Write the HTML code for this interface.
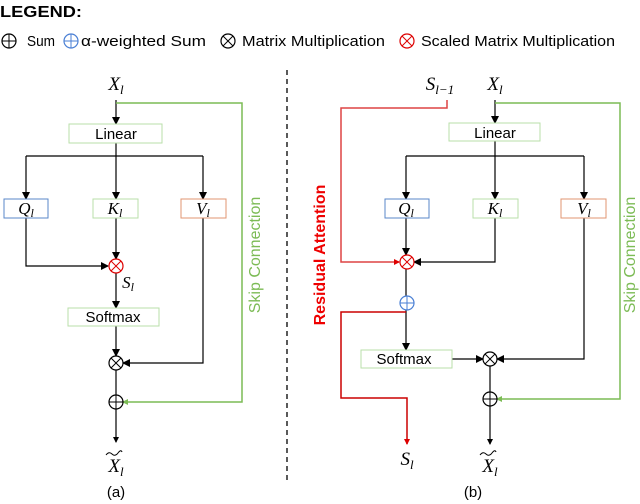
<!DOCTYPE html>
<html><head><meta charset="utf-8"><style>
body{margin:0;background:#fff}
svg{display:block;font-family:"Liberation Sans",sans-serif}
.m{font-family:"Liberation Serif",serif;font-style:italic}
</style></head><body>
<svg width="640" height="504" viewBox="0 0 640 504" xmlns="http://www.w3.org/2000/svg">
<defs>
<marker id="ak" markerWidth="8" markerHeight="8" refX="7" refY="4" orient="auto" markerUnits="userSpaceOnUse"><path d="M0,0 L8,4 L0,8z" fill="#000"/></marker>
<marker id="ar" markerWidth="6" markerHeight="6" refX="5" refY="3" orient="auto" markerUnits="userSpaceOnUse"><path d="M0,0 L6,3 L0,6z" fill="#d00"/></marker>
<marker id="ag" markerWidth="6" markerHeight="6" refX="5" refY="3" orient="auto" markerUnits="userSpaceOnUse"><path d="M0,0 L6,3 L0,6z" fill="#7cbb55"/></marker>
<marker id="as" markerWidth="6" markerHeight="6" refX="5" refY="3" orient="auto" markerUnits="userSpaceOnUse"><path d="M0,0 L6,3 L0,6z" fill="#000"/></marker>
<g id="plus"><circle r="7" fill="#fff" stroke-width="1.2"/><line x1="-7" y1="0" x2="7" y2="0"/><line x1="0" y1="-7" x2="0" y2="7"/></g>
<g id="times"><circle r="7" fill="#fff" stroke-width="1.2"/><line x1="-5" y1="-5" x2="5" y2="5"/><line x1="-5" y1="5" x2="5" y2="-5"/></g>
</defs>
<text x="0" y="17" font-size="16" font-weight="bold" textLength="82" lengthAdjust="spacingAndGlyphs">LEGEND:</text>
<g font-size="15">
<use href="#plus" x="9" y="41" stroke="#000"/><text x="27" y="46" textLength="28" lengthAdjust="spacingAndGlyphs">Sum</text>
<use href="#plus" x="71" y="41" stroke="#4a7fd4"/><text x="81" y="46" textLength="125" lengthAdjust="spacingAndGlyphs">α-weighted Sum</text>
<use href="#times" x="228" y="41" stroke="#000"/><text x="242" y="46" textLength="143" lengthAdjust="spacingAndGlyphs">Matrix Multiplication</text>
<use href="#times" x="407" y="41" stroke="#d00"/><text x="421" y="46" textLength="194" lengthAdjust="spacingAndGlyphs">Scaled Matrix Multiplication</text>
</g>
<line x1="287" y1="70" x2="287" y2="482" stroke="#000" stroke-dasharray="5,4" stroke-width="1.3"/>

<!-- LEFT -->
<g stroke="#000" stroke-width="1.2" fill="none">
<line x1="116" y1="100" x2="116" y2="124" marker-end="url(#ak)"/>
<polyline points="116,143 116,156"/>
<polyline points="26,156 203,156"/>
<line x1="26" y1="156" x2="26" y2="199" marker-end="url(#ak)"/>
<line x1="203" y1="156" x2="203" y2="199" marker-end="url(#ak)"/>
<line x1="116" y1="156" x2="116" y2="199" marker-end="url(#ak)"/>
<line x1="116" y1="218" x2="116" y2="259" marker-end="url(#ak)"/>
<polyline points="26,218 26,266 108,266" marker-end="url(#ak)"/>
<line x1="116" y1="273" x2="116" y2="308" marker-end="url(#ak)"/>
<line x1="116" y1="326" x2="116" y2="356" marker-end="url(#ak)"/>
<polyline points="203,218 203,363 123,363" marker-end="url(#ak)"/>
<line x1="116" y1="370" x2="116" y2="395"/>
<line x1="116" y1="409" x2="116" y2="442" marker-end="url(#as)"/>
</g>
<polyline points="116,103 242,103 242,402 123,402" fill="none" stroke="#7cbb55" stroke-width="1.5" marker-end="url(#ag)"/>
<rect x="69" y="124" width="93" height="19" fill="#fff" stroke="#b9dfaa"/>
<rect x="4" y="199" width="44" height="19" fill="#fff" stroke="#5a87c9"/>
<rect x="93" y="199" width="45" height="19" fill="#fff" stroke="#b9dfaa"/>
<rect x="181" y="199" width="45" height="19" fill="#fff" stroke="#e09570"/>
<rect x="68" y="308" width="91" height="18" fill="#fff" stroke="#b9dfaa"/>
<use href="#times" x="116" y="266" stroke="#d00"/>
<use href="#times" x="116" y="363" stroke="#000"/>
<use href="#plus" x="116" y="402" stroke="#000"/>
<g font-size="15" text-anchor="middle">
<text x="116" y="139">Linear</text><text x="113" y="322">Softmax</text>
</g>
<g class="m" font-size="17" text-anchor="middle">
<text x="116" y="90" font-size="19">X<tspan font-size="13" dy="4">l</tspan></text>
<text x="26" y="214">Q<tspan font-size="12" dy="3">l</tspan></text>
<text x="115" y="214">K<tspan font-size="12" dy="3">l</tspan></text>
<text x="203" y="214">V<tspan font-size="12" dy="3">l</tspan></text>
<text x="128" y="288">S<tspan font-size="12" dy="3">l</tspan></text>
<text x="116" y="472" font-size="19">X<tspan font-size="13" dy="4">l</tspan></text>
</g>
<path d="M106,455 q3,-4 6,-1 t6,-1 t4,-1" fill="none" stroke="#000" stroke-width="1"/>
<text x="116" y="497" font-size="15" text-anchor="middle">(a)</text>
<text transform="translate(260,255) rotate(-90)" font-size="16" fill="#7cbb55" text-anchor="middle">Skip Connection</text>

<!-- RIGHT -->
<g stroke="#000" stroke-width="1.2" fill="none">
<line x1="495" y1="100" x2="495" y2="123" marker-end="url(#ak)"/>
<polyline points="495,141 495,156"/>
<polyline points="406,156 584,156"/>
<line x1="406" y1="156" x2="406" y2="199" marker-end="url(#ak)"/>
<line x1="495" y1="156" x2="495" y2="199" marker-end="url(#ak)"/>
<line x1="584" y1="156" x2="584" y2="199" marker-end="url(#ak)"/>
<line x1="406" y1="218" x2="406" y2="255" marker-end="url(#ak)"/>
<polyline points="495,218 495,262 414,262" marker-end="url(#ak)"/>
<line x1="406" y1="269" x2="406" y2="296"/>
<line x1="406" y1="310" x2="406" y2="350" marker-end="url(#ak)"/>
<line x1="452" y1="359" x2="483" y2="359" marker-end="url(#ak)"/>
<polyline points="584,218 584,359 497,359" marker-end="url(#ak)"/>
<line x1="490" y1="366" x2="490" y2="392"/>
<line x1="490" y1="406" x2="490" y2="444" marker-end="url(#as)"/>
</g>
<polyline points="447,100 447,108 341,108 341,262 399,262" fill="none" stroke="#d44" stroke-width="1.5" marker-end="url(#ar)"/>
<polyline points="406,312 341,312 341,398 407,398 407,444" fill="none" stroke="#c00" stroke-width="1.5" marker-end="url(#ar)"/>
<polyline points="495,103 620,103 620,399 497,399" fill="none" stroke="#7cbb55" stroke-width="1.5" marker-end="url(#ag)"/>
<rect x="449" y="123" width="91" height="18" fill="#fff" stroke="#b9dfaa"/>
<rect x="385" y="199" width="44" height="19" fill="#fff" stroke="#5a87c9"/>
<rect x="473" y="199" width="45" height="19" fill="#fff" stroke="#b9dfaa"/>
<rect x="561" y="199" width="45" height="19" fill="#fff" stroke="#e09570"/>
<rect x="361" y="350" width="91" height="18" fill="#fff" stroke="#b9dfaa"/>
<use href="#times" x="407" y="262" stroke="#d00"/>
<use href="#plus" x="407" y="303" stroke="#4a7fd4"/>
<use href="#times" x="490" y="359" stroke="#000"/>
<use href="#plus" x="490" y="399" stroke="#000"/>
<g font-size="15" text-anchor="middle">
<text x="495" y="138">Linear</text><text x="404" y="364">Softmax</text>
</g>
<g class="m" font-size="17" text-anchor="middle">
<text x="440" y="90" font-size="19">S<tspan font-size="13" dy="4">l−1</tspan></text>
<text x="495" y="90" font-size="19">X<tspan font-size="13" dy="4">l</tspan></text>
<text x="406" y="214">Q<tspan font-size="12" dy="3">l</tspan></text>
<text x="495" y="214">K<tspan font-size="12" dy="3">l</tspan></text>
<text x="584" y="214">V<tspan font-size="12" dy="3">l</tspan></text>
<text x="407" y="465" font-size="19">S<tspan font-size="13" dy="4">l</tspan></text>
<text x="490" y="472" font-size="19">X<tspan font-size="13" dy="4">l</tspan></text>
</g>
<path d="M480,455 q3,-4 6,-1 t6,-1 t4,-1" fill="none" stroke="#000" stroke-width="1"/>
<text x="473" y="497" font-size="15" text-anchor="middle">(b)</text>
<text transform="translate(325,255) rotate(-90)" font-size="16" font-weight="bold" fill="#e00" text-anchor="middle">Residual Attention</text>
<text transform="translate(635,255) rotate(-90)" font-size="16" fill="#7cbb55" text-anchor="middle">Skip Connection</text>
</svg>
</body></html>
